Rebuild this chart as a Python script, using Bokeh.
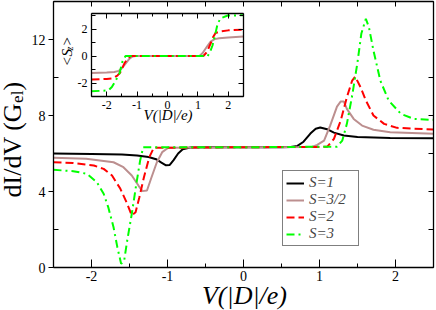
import math
from bokeh.plotting import figure
from bokeh.models import LinearAxis, FixedTicker, Label, Legend, LegendItem, Range1d
from bokeh.layouts import column
from bokeh.embed import file_html
from bokeh.resources import INLINE

FONT = "Liberation Serif"

# ---------------- main panel data: dI/dV (G_el) vs V (|D|/e) ----------------
s1_x = [-2.5, -2.0, -1.6, -1.4, -1.25, -1.15, -1.08, -1.02, -0.97, -0.92, -0.86, -0.8, -0.7, -0.5,
        0.0, 0.5, 0.62, 0.71, 0.79, 0.88, 0.95, 1.01, 1.1, 1.19, 1.32, 1.5, 1.93, 2.5]
s1_y = [6.0, 5.98, 5.95, 5.9, 5.82, 5.7, 5.52, 5.38, 5.4, 5.65, 6.0, 6.22, 6.32, 6.33,
        6.33, 6.33, 6.34, 6.4, 6.62, 7.05, 7.3, 7.37, 7.28, 7.1, 6.95, 6.87, 6.82, 6.8]

s32_x = [-2.5, -2.07, -1.71, -1.58, -1.47, -1.38, -1.33, -1.27, -1.21, -1.14, -1.07, -0.99,
         0.0, 0.9, 0.97, 1.06, 1.14, 1.23, 1.28, 1.32, 1.36, 1.45, 1.56, 1.71, 1.93, 2.5]
s32_y = [5.77, 5.72, 5.54, 5.28, 4.84, 4.3, 4.02, 4.05, 4.75, 5.54, 6.07, 6.3,
         6.33, 6.34, 6.45, 6.68, 7.47, 8.47, 8.74, 8.74, 8.35, 7.82, 7.47, 7.25, 7.12, 7.04]

s2_x = [-2.5, -2.24, -1.97, -1.84, -1.73, -1.62, -1.54, -1.47, -1.42, -1.37, -1.31, -1.24, -1.18,
        0.0, 1.1, 1.19, 1.28, 1.36, 1.43, 1.47, 1.54, 1.61, 1.71, 1.85, 2.02, 2.5]
s2_y = [5.54, 5.5, 5.37, 5.19, 4.84, 4.14, 3.44, 2.74, 2.91, 3.7, 4.75, 5.8, 6.3,
        6.33, 6.35, 6.77, 7.74, 8.96, 9.84, 10.05, 9.49, 8.79, 8.0, 7.56, 7.35, 7.26]

s3_x = [-2.5, -2.24, -2.06, -1.93, -1.84, -1.78, -1.71, -1.66, -1.61, -1.57, -1.53, -1.47, -1.41,
        -1.36, -1.32, 0.0, 1.23, 1.3, 1.36, 1.43, 1.5, 1.55, 1.61, 1.65, 1.71, 1.8, 1.91, 2.07,
        2.24, 2.5]
s3_y = [5.14, 5.07, 4.93, 4.49, 3.88, 3.18, 2.12, 1.07, 0.19, 0.37, 1.42, 2.82, 4.4,
        5.63, 6.33, 6.33, 6.36, 6.68, 7.56, 9.05, 10.8, 12.3, 13.09, 12.65, 11.42, 9.84, 8.79, 8.09,
        7.82, 7.77]

# ---------------- inset data: <S_z> vs V (|D|/e) ----------------
in32_x = [-2.5, -2.0, -1.75, -1.6, -1.5, -1.38, -1.25, -1.15, -1.05, 1.05, 1.15, 1.3, 1.42,
          1.55, 1.7, 2.0, 2.5]
in32_y = [-1.25, -1.22, -1.18, -1.1, -0.9, -0.56, -0.2, -0.03, 0.0, 0.0, 0.2, 0.7, 1.07,
          1.25, 1.32, 1.38, 1.44]

in2_x = [-2.5, -2.0, -1.8, -1.65, -1.55, -1.42, -1.3, -1.2, 1.18, 1.3, 1.42, 1.5, 1.58,
         1.75, 2.0, 2.5]
in2_y = [-1.74, -1.7, -1.65, -1.45, -1.2, -0.56, -0.15, 0.0, 0.0, 0.3, 0.93, 1.4, 1.7,
         1.82, 1.9, 1.96]

in3_x = [-2.5, -2.0, -1.92, -1.83, -1.75, -1.65, -1.58, -1.48, -1.38, 1.32, 1.4, 1.48, 1.57,
         1.65, 1.75, 1.98, 2.5]
in3_y = [-2.62, -2.55, -2.5, -2.3, -2.0, -1.6, -1.3, -0.4, 0.0, 0.0, 0.3, 0.78, 1.6,
         2.4, 2.8, 3.0, 3.02]

labels = ["S=1", "S=3/2", "S=2", "S=3"]
colors = ["black", "#bc8f8f", "red", "#00ff00"]
dashes = ["solid", "solid", "8 4", "8 4 2 4"]

main_xticks = [-2, -1, 0, 1, 2]
main_xminor = [-2.5, -1.5, -0.5, 0.5, 1.5, 2.5]
main_yticks = [0, 4, 8, 12]
main_yminor = [2, 6, 10, 14]
in_xticks = [-2, -1, 0, 1, 2]
in_xminor = [-2.5, -1.5, -0.5, 0.5, 1.5, 2.5]
in_yticks = [-2, 0, 2]
in_yminor = [-3, -1, 1, 3]

# all figures in the column share left border 53 and right border 3 (frames are aligned)
BL, BR = 53, 3


def make_axis(ticks, minor, tick_in, tick_out, minor_in, minor_out, show_labels, size, standoff):
    ax = LinearAxis(ticker=FixedTicker(ticks=ticks, minor_ticks=minor))
    ax.axis_line_color = "black"
    ax.axis_line_width = 1.3
    ax.major_tick_line_color = "black"
    ax.minor_tick_line_color = "black"
    ax.major_tick_in = tick_in
    ax.major_tick_out = tick_out
    ax.minor_tick_in = minor_in
    ax.minor_tick_out = minor_out
    ax.major_label_standoff = standoff
    ax.major_label_text_font = FONT
    ax.major_label_text_color = "black"
    ax.major_label_overrides = {t: ("%g" % t) for t in ticks}
    if show_labels:
        ax.major_label_text_font_size = size
    else:
        ax.major_label_text_font_size = "0px"
        ax.major_label_standoff = 0
    return ax


# ---------------- main figure ----------------
p = figure(width=436, height=310, x_range=Range1d(-2.5, 2.5), y_range=Range1d(0, 14),
           output_backend="svg", toolbar_location=None, x_axis_location=None, y_axis_location=None,
           min_border_left=BL, min_border_right=BR, min_border_top=1, min_border_bottom=43)
p.grid.visible = False
p.outline_line_color = None
p.background_fill_color = "white"
p.border_fill_color = "white"

p.add_layout(make_axis(main_xticks, main_xminor, 8, 0, 4, 0, True, "14px", 3), "below")
p.add_layout(make_axis(main_xticks + main_xminor, [], 5, 0, 0, 0, False, "0px", 0), "above")
p.add_layout(make_axis(main_yticks, main_yminor, 0, 5, 5, 0, True, "14px", 3), "left")
p.add_layout(make_axis(main_yticks + main_yminor, [], 5, 0, 0, 0, False, "0px", 0), "right")

renderers = []
for xs, ys, c, d in zip([s1_x, s32_x, s2_x, s3_x], [s1_y, s32_y, s2_y, s3_y], colors, dashes):
    r = p.line(xs, ys, line_color=c, line_width=2, line_dash=d)
    renderers.append(r)

legend = Legend(items=[LegendItem(label=l, renderers=[r]) for l, r in zip(labels, renderers)],
                location=(229, 21))
legend.label_text_font = FONT
legend.label_text_font_style = "italic"
legend.label_text_font_size = "15px"
legend.label_height = 16
legend.glyph_height = 16
legend.glyph_width = 18
legend.label_standoff = 5
legend.label_width = 46
legend.spacing = 0
legend.padding = 3
legend.margin = 0
legend.border_line_color = "black"
legend.border_line_width = 1
legend.background_fill_color = "white"
legend.background_fill_alpha = 1.0
p.add_layout(legend, "center")

# ---------------- inset figure (frame 152 x 83 at window x=91, y=13) ----------------
ins = figure(width=BL + 152 + BR, height=117, x_range=Range1d(-2.5, 2.5), y_range=Range1d(-3, 3.15),
             output_backend="svg", toolbar_location=None, x_axis_location=None, y_axis_location=None,
             min_border_left=BL, min_border_right=BR, min_border_top=3, min_border_bottom=31)
ins.grid.visible = False
ins.outline_line_color = None
ins.background_fill_color = "white"
ins.border_fill_alpha = 0

ins.add_layout(make_axis(in_xticks, in_xminor, 5, 0, 3, 0, True, "12px", 4), "below")
ins.add_layout(make_axis(in_xticks, in_xminor, 5, 0, 3, 0, False, "0px", 0), "above")
ins.add_layout(make_axis(in_yticks, in_yminor, 5, 0, 4, 0, True, "12px", 4), "left")
ins.add_layout(make_axis(in_yticks, in_yminor, 5, 0, 4, 0, False, "0px", 0), "right")

for xs, ys, c, d in zip([in32_x, in2_x, in3_x], [in32_y, in2_y, in3_y], colors[1:], dashes[1:]):
    ins.line(xs, ys, line_color=c, line_width=2, line_dash=d)

# ---------------- transparent overlay for axis titles (frame = whole window) ----------------
lab = figure(width=BL + 436 + BR, height=310, x_range=Range1d(0, 436), y_range=Range1d(0, 310),
             output_backend="svg", toolbar_location=None, x_axis_location=None, y_axis_location=None,
             min_border_left=BL, min_border_right=BR, min_border_top=0, min_border_bottom=0)
lab.grid.visible = False
lab.outline_line_color = None
lab.background_fill_alpha = 0
lab.border_fill_alpha = 0


def title(x, y, text, size, italic=False, angle=0.0, align="left"):
    lab.add_layout(Label(x=x, y=y, x_units="screen", y_units="screen", text=text,
                         angle=angle, text_font=FONT, text_font_size=size,
                         text_font_style="italic" if italic else "normal",
                         text_align=align, text_baseline="alphabetic", text_color="black"))


V = math.pi / 2
title(12, 113, "dI/dV (G", "26px", angle=V)
title(17, 207.6, "el", "17px", angle=V)
title(12, 220, ")", "26px", angle=V)
title(244, 15, "V(|D|/e)", "26px", italic=True, align="center")
title(167.5, 195.5, "V(|D|/e)", "15px", italic=True, align="center")
title(66, 244, "<S", "15px", italic=True, angle=V)
title(69, 260, "z", "10px", italic=True, angle=V)
title(66, 264, ">", "15px", italic=True, angle=V)

p.styles = {"position": "absolute", "left": "0px", "top": "0px",
            "width": "436px", "height": "310px"}
ins.styles = {"position": "absolute", "left": "%dpx" % (91 - BL), "top": "10px",
              "width": "%dpx" % (BL + 152 + BR), "height": "117px"}
lab.styles = {"position": "absolute", "left": "%dpx" % (-BL), "top": "0px",
              "width": "%dpx" % (BL + 436 + BR), "height": "310px"}

layout = column(p, ins, lab, width=436, height=310)
open("out.html", "w").write(file_html(layout, INLINE))
